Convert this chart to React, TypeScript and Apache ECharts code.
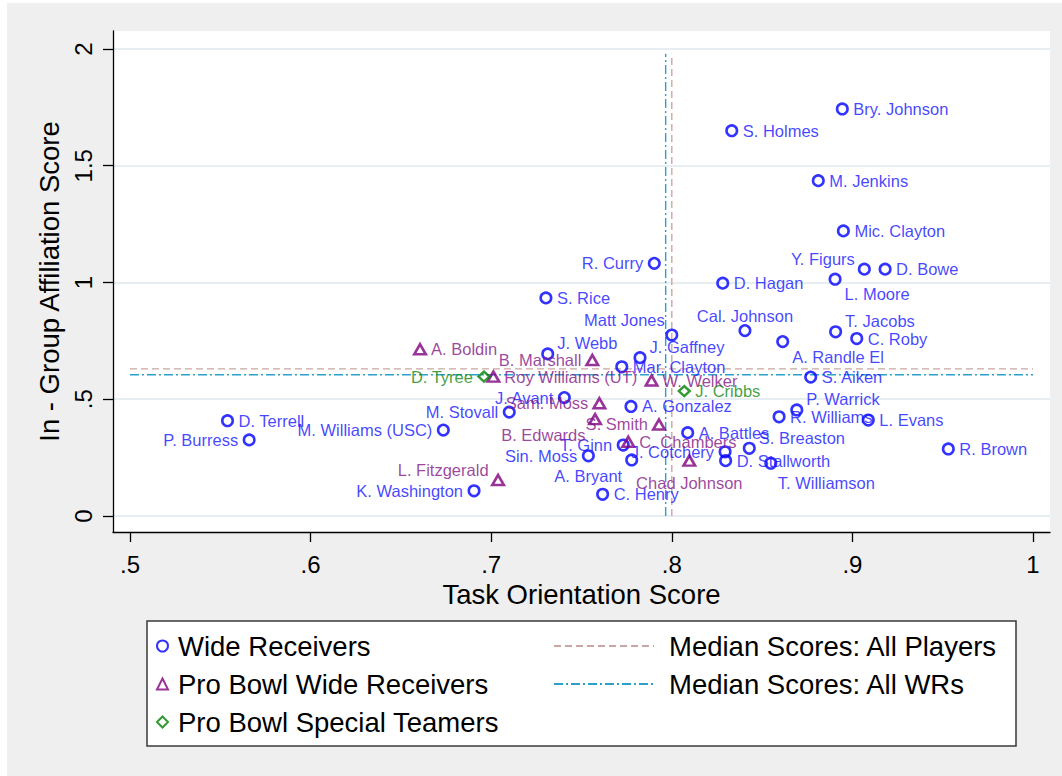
import React, { useEffect, useRef } from "react";
import * as echarts from "echarts";

// [name, task orientation score, in-group affiliation score]
const wideReceivers: [string, number, number][] = [
  ["D. Terrell", 0.554, 0.408],
  ["P. Burress", 0.566, 0.326],
  ["M. Williams (USC)", 0.6735, 0.368],
  ["K. Washington", 0.6905, 0.108],
  ["M. Stovall", 0.71, 0.445],
  ["J. Webb", 0.7313, 0.694],
  ["S. Rice", 0.7303, 0.934],
  ["R. Curry", 0.7903, 1.082],
  ["Matt Jones", 0.8, 0.775],
  ["J. Gaffney", 0.7824, 0.678],
  ["Mar. Clayton", 0.7723, 0.639],
  ["J. Avant", 0.7405, 0.507],
  ["A. Gonzalez", 0.7774, 0.469],
  ["T. Ginn", 0.7731, 0.304],
  ["Sin. Moss", 0.7538, 0.258],
  ["A. Bryant", 0.7778, 0.24],
  ["C. Henry", 0.7617, 0.093],
  ["A. Battles", 0.8088, 0.357],
  ["J. Cotchery", 0.8295, 0.275],
  ["D. Stallworth", 0.8298, 0.237],
  ["S. Breaston", 0.8429, 0.29],
  ["T. Williamson", 0.8548, 0.226],
  ["D. Hagan", 0.8282, 0.997],
  ["S. Holmes", 0.8332, 1.65],
  ["Bry. Johnson", 0.8944, 1.743],
  ["M. Jenkins", 0.8811, 1.436],
  ["Mic. Clayton", 0.895, 1.221],
  ["Y. Figurs", 0.9066, 1.057],
  ["D. Bowe", 0.9181, 1.057],
  ["L. Moore", 0.8904, 1.014],
  ["Cal. Johnson", 0.8405, 0.794],
  ["A. Randle El", 0.8614, 0.747],
  ["T. Jacobs", 0.8907, 0.789],
  ["C. Roby", 0.9024, 0.76],
  ["S. Aiken", 0.8769, 0.595],
  ["P. Warrick", 0.8692, 0.454],
  ["R. Williams", 0.8594, 0.425],
  ["L. Evans", 0.9088, 0.411],
  ["R. Brown", 0.9531, 0.287],
];

const proBowlWRs: [string, number, number][] = [
  ["A. Boldin", 0.6606, 0.714],
  ["Roy Williams (UT)", 0.7012, 0.597],
  ["B. Marshall", 0.756, 0.668],
  ["W. Welker", 0.7888, 0.58],
  ["Sam. Moss", 0.7599, 0.483],
  ["B. Edwards", 0.7575, 0.415],
  ["S. Smith", 0.7929, 0.392],
  ["C. Chambers", 0.7759, 0.318],
  ["Chad Johnson", 0.8097, 0.237],
  ["L. Fitzgerald", 0.7038, 0.154],
];

const proBowlSpecialTeamers: [string, number, number][] = [
  ["D. Tyree", 0.696, 0.597],
  ["J. Cribbs", 0.8069, 0.535],
];

// marker label clock position (Stata style); default 3 o'clock
const labelClock: Record<string, number> = {
  "P. Burress": 9,
  "M. Williams (USC)": 9,
  "K. Washington": 9,
  "M. Stovall": 9,
  "J. Webb": 2,
  "R. Curry": 9,
  "Matt Jones": 11,
  "J. Gaffney": 2,
  "J. Avant": 9,
  "T. Ginn": 9,
  "Sin. Moss": 9,
  "A. Bryant": 7,
  "J. Cotchery": 9,
  "S. Breaston": 2,
  "T. Williamson": 5,
  "Y. Figurs": 10,
  "L. Moore": 4,
  "Cal. Johnson": 12,
  "A. Randle El": 4,
  "T. Jacobs": 2,
  "P. Warrick": 2,
  "B. Marshall": 9,
  "Sam. Moss": 9,
  "B. Edwards": 7,
  "S. Smith": 9,
  "Chad Johnson": 6,
  "L. Fitzgerald": 10,
  "D. Tyree": 9,
};

// medians [x, y]
const medianAllPlayers = [0.8, 0.63];
const medianAllWRs = [0.7966, 0.605];
const medianLineXRange = [0.5, 1.0];
const medianLineYRange = [0, 1.98];

const xTicks = [0.5, 0.6, 0.7, 0.8, 0.9, 1.0];
const yTicks = [0, 0.5, 1, 1.5, 2];
const X_MIN = 0.4906;
const X_MAX = 1.0094;
const Y_MIN = -0.0685;
const Y_MAX = 2.077;

const FONT = "'Liberation Sans', Arial, Helvetica, sans-serif";
const BLUE = "#0000ff";
const PURPLE = "#800080";
const GREEN = "#008000";
const PINK = "#c9a7a3";
const CYAN = "#2d9fcb";

const clockOffset: Record<number, [number, number, string]> = {
  3: [11, 0, "left"],
  9: [-11, 0, "right"],
  2: [9.5, -10.5, "left"],
  1: [6, -14, "left"],
  10: [-9.5, -10, "right"],
  11: [-7, -15, "right"],
  4: [9.5, 15, "left"],
  5: [7, 20, "left"],
  7: [-9.5, 16, "right"],
  8: [-10, 11, "right"],
  12: [0, -15, "center"],
  6: [0, 22, "center"],
};

const tickFmt = (v: number) => {
  if (v === 0) return "0";
  const s = String(Math.round(v * 100) / 100);
  return s.startsWith("0.") ? s.slice(1) : s;
};

function pointsData(rows: [string, number, number][], labelColor: string) {
  return rows.map(([name, x, y]) => {
    const c = labelClock[name] ?? 3;
    const [dx, dy, align] = clockOffset[c];
    return {
      name,
      value: [x, y],
      label: {
        show: true,
        position: ["50%", "50%"],
        offset: [dx, dy],
        align,
        verticalAlign: "middle",
        color: labelColor,
      },
    };
  });
}

export default function App() {
  const ref = useRef<HTMLDivElement>(null);

  useEffect(() => {
    if (!ref.current) return;
    const chart = echarts.init(ref.current, undefined, { renderer: "svg" });

    const labelBase = {
      show: true,
      formatter: "{b}",
      fontSize: 16.5,
      fontFamily: FONT,
    };

    const option: any = {
      animation: false,
      textStyle: { fontFamily: FONT },
      grid: {
        left: 113,
        top: 31,
        width: 937,
        height: 501,
        show: true,
        backgroundColor: "#ffffff",
        borderWidth: 0,
        containLabel: false,
        outerBoundsMode: "none",
      },
      xAxis: {
        type: "value",
        min: X_MIN,
        max: X_MAX,
        axisLine: { show: true, onZero: false, lineStyle: { color: "#000", width: 1.3 } },
        axisTick: { show: true, length: 10, customValues: xTicks, lineStyle: { color: "#000", width: 1.3 } },
        axisLabel: { customValues: xTicks, formatter: tickFmt, fontSize: 24, color: "#000", margin: 20, fontFamily: FONT },
        splitLine: { show: false },
        name: "Task Orientation Score",
        nameLocation: "middle",
        nameGap: 36,
        nameTextStyle: { fontSize: 27.5, color: "#000", fontFamily: FONT },
      },
      yAxis: {
        type: "value",
        min: Y_MIN,
        max: Y_MAX,
        axisLine: { show: true, onZero: false, lineStyle: { color: "#000", width: 1.3 } },
        axisTick: { show: true, length: 10, customValues: yTicks, lineStyle: { color: "#000", width: 1.3 } },
        axisLabel: { customValues: yTicks, formatter: tickFmt, fontSize: 24, color: "#000", margin: 18, rotate: 90, fontFamily: FONT },
        splitLine: { show: true, lineStyle: { color: "#e6eef1", width: 2 } },
        name: "In - Group Affiliation Score",
        nameLocation: "middle",
        nameGap: 47,
        nameRotate: 90,
        nameTextStyle: { fontSize: 27.5, color: "#000", fontFamily: FONT },
      },
      legend: [
        {
          data: ["Wide Receivers", "Pro Bowl Wide Receivers", "Pro Bowl Special Teamers"],
          orient: "vertical",
          left: 151,
          top: 627,
          itemWidth: 11,
          itemHeight: 11,
          itemGap: 10,
          selectedMode: false,
          itemStyle: { borderWidth: 2 },
          textStyle: { fontSize: 27.5, color: "#000", fontFamily: FONT, padding: [0, 0, 0, 5] },
        },
        {
          data: ["Median Scores: All Players", "Median Scores: All WRs"],
          orient: "vertical",
          left: 548,
          top: 627,
          itemWidth: 100,
          itemHeight: 12,
          itemGap: 10,
          selectedMode: false,
          itemStyle: { opacity: 0 },
          textStyle: { fontSize: 27.5, color: "#000", fontFamily: FONT, padding: [0, 0, 0, 10] },
        },
      ],
      graphic: [
        {
          type: "rect",
          shape: { x: 147, y: 621, width: 869, height: 125 },
          style: { fill: "#ffffff", stroke: "#3a3a3a", lineWidth: 1.5 },
          z: 0,
          silent: true,
        },
      ],
      series: [
        {
          name: "Median Scores: All Players",
          type: "line",
          data: [
            [medianLineXRange[0], medianAllPlayers[1]],
            [medianLineXRange[1], medianAllPlayers[1]],
          ],
          symbol: "none",
          silent: true,
          itemStyle: { color: PINK },
          lineStyle: { color: PINK, width: 1.4, type: [7, 4] },
          z: 1,
        },
        {
          name: "Median Scores: All Players",
          type: "line",
          data: [
            [medianAllPlayers[0], medianLineYRange[0]],
            [medianAllPlayers[0], medianLineYRange[1]],
          ],
          symbol: "none",
          silent: true,
          itemStyle: { color: PINK },
          lineStyle: { color: PINK, width: 1.4, type: [7, 4] },
          z: 1,
        },
        {
          name: "Median Scores: All WRs",
          type: "line",
          data: [
            [medianLineXRange[0], medianAllWRs[1]],
            [medianLineXRange[1], medianAllWRs[1]],
          ],
          symbol: "none",
          silent: true,
          itemStyle: { color: CYAN },
          lineStyle: { color: CYAN, width: 1.4, type: [9, 3, 2, 3] },
          z: 1,
        },
        {
          name: "Median Scores: All WRs",
          type: "line",
          data: [
            [medianAllWRs[0], medianLineYRange[0]],
            [medianAllWRs[0], medianLineYRange[1]],
          ],
          symbol: "none",
          silent: true,
          itemStyle: { color: CYAN },
          lineStyle: { color: CYAN, width: 1.4, type: [9, 3, 2, 3] },
          z: 1,
        },
        {
          name: "Wide Receivers",
          type: "scatter",
          symbol: "circle",
          symbolSize: 10.5,
          itemStyle: { color: "rgba(255,255,255,0)", borderColor: BLUE, borderWidth: 2.6 },
          label: { ...labelBase, color: "#1414ff" },
          data: pointsData(wideReceivers, "#1414ff"),
          z: 3,
        },
        {
          name: "Pro Bowl Wide Receivers",
          type: "scatter",
          symbol: "triangle",
          symbolSize: [11.5, 10],
          itemStyle: { color: "rgba(255,255,255,0)", borderColor: PURPLE, borderWidth: 2.6 },
          label: { ...labelBase, color: "#841484" },
          data: pointsData(proBowlWRs, "#841484"),
          z: 3,
        },
        {
          name: "Pro Bowl Special Teamers",
          type: "scatter",
          symbol: "diamond",
          symbolSize: [11, 10],
          itemStyle: { color: "rgba(255,255,255,0)", borderColor: GREEN, borderWidth: 2.4 },
          label: { ...labelBase, color: "#108810" },
          data: pointsData(proBowlSpecialTeamers, "#108810"),
          z: 3,
        },
      ],
    };

    chart.setOption(option);
    return () => chart.dispose();
  }, []);

  return (
    <div style={{ position: "fixed", left: 0, top: 0, width: 1062, height: 776, background: "#ffffff" }}>
      <div style={{ position: "absolute", left: 7, top: 3, width: 1055, height: 773, background: "#efefef" }} />
      <div ref={ref} style={{ position: "absolute", left: 0, top: 0, width: 1062, height: 776 }} />
    </div>
  );
}
